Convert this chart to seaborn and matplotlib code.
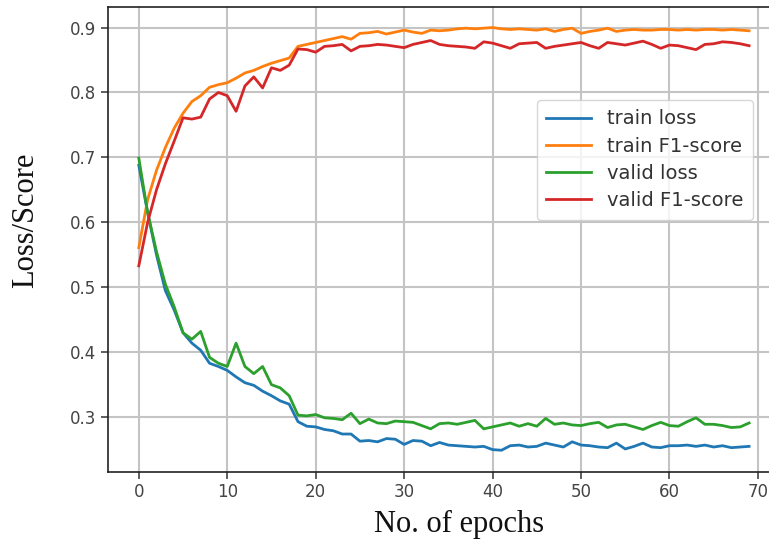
import matplotlib
matplotlib.use("Agg")
import matplotlib.pyplot as plt
import seaborn as sns
import pandas as pd
import numpy as np

epochs = list(range(70))

train_loss = [0.688, 0.615, 0.550, 0.495, 0.465, 0.430, 0.414, 0.403, 0.383, 0.378,
              0.372, 0.362, 0.353, 0.349, 0.340, 0.333, 0.325, 0.320, 0.293, 0.286,
              0.285, 0.281, 0.279, 0.274, 0.274, 0.263, 0.264, 0.262, 0.267, 0.266,
              0.258, 0.264, 0.263, 0.256, 0.261, 0.257, 0.256, 0.255, 0.254, 0.255,
              0.250, 0.249, 0.256, 0.257, 0.254, 0.255, 0.260, 0.257, 0.254, 0.262,
              0.257, 0.256, 0.254, 0.253, 0.260, 0.251, 0.255, 0.260, 0.254, 0.253,
              0.256, 0.256, 0.257, 0.255, 0.257, 0.254, 0.256, 0.253, 0.254, 0.255]

train_f1 = [0.561, 0.635, 0.680, 0.715, 0.745, 0.768, 0.786, 0.795, 0.808, 0.812,
            0.815, 0.822, 0.830, 0.834, 0.840, 0.845, 0.849, 0.853, 0.871, 0.874,
            0.877, 0.880, 0.883, 0.886, 0.882, 0.891, 0.892, 0.894, 0.890, 0.893,
            0.896, 0.893, 0.891, 0.896, 0.895, 0.896, 0.898, 0.899, 0.898, 0.899,
            0.900, 0.898, 0.897, 0.898, 0.897, 0.896, 0.898, 0.894, 0.897, 0.899,
            0.891, 0.894, 0.896, 0.899, 0.894, 0.896, 0.897, 0.896, 0.896, 0.897,
            0.897, 0.896, 0.897, 0.896, 0.897, 0.897, 0.896, 0.897, 0.896, 0.895]

valid_loss = [0.699, 0.615, 0.555, 0.505, 0.470, 0.430, 0.420, 0.432, 0.392, 0.383,
              0.378, 0.414, 0.378, 0.367, 0.378, 0.350, 0.345, 0.333, 0.303, 0.302,
              0.304, 0.299, 0.298, 0.296, 0.306, 0.290, 0.297, 0.291, 0.290, 0.294,
              0.293, 0.292, 0.287, 0.282, 0.290, 0.291, 0.289, 0.292, 0.295, 0.282,
              0.285, 0.288, 0.291, 0.286, 0.290, 0.286, 0.298, 0.289, 0.291, 0.288,
              0.287, 0.290, 0.292, 0.284, 0.288, 0.289, 0.285, 0.281, 0.287, 0.292,
              0.287, 0.286, 0.293, 0.299, 0.289, 0.289, 0.287, 0.284, 0.285, 0.291]

valid_f1 = [0.533, 0.600, 0.650, 0.690, 0.725, 0.761, 0.759, 0.762, 0.790, 0.800,
            0.795, 0.771, 0.810, 0.824, 0.807, 0.838, 0.834, 0.842, 0.867, 0.866,
            0.862, 0.871, 0.872, 0.874, 0.864, 0.871, 0.872, 0.874, 0.873, 0.871,
            0.869, 0.874, 0.877, 0.880, 0.874, 0.872, 0.871, 0.870, 0.868, 0.878,
            0.876, 0.872, 0.868, 0.875, 0.876, 0.877, 0.868, 0.871, 0.873, 0.875,
            0.877, 0.872, 0.868, 0.877, 0.875, 0.873, 0.876, 0.879, 0.874, 0.868,
            0.873, 0.872, 0.869, 0.866, 0.874, 0.875, 0.878, 0.877, 0.875, 0.872]

series_names = ["train loss", "train F1-score", "valid loss", "valid F1-score"]
x_ticks = [0, 10, 20, 30, 40, 50, 60, 70]
y_ticks = [0.3, 0.4, 0.5, 0.6, 0.7, 0.8, 0.9]

colors = ["#1f77b4", "#ff7f0e", "#2ca02c", "#d62728"]

fig = plt.figure(figsize=(7.69, 5.40), dpi=100)
ax = fig.add_axes([0.1408, 0.1265, 0.873, 0.861])

for name, vals, c in zip(series_names, [train_loss, train_f1, valid_loss, valid_f1], colors):
    df = pd.DataFrame({"epoch": epochs, "value": vals})
    sns.lineplot(data=df, x="epoch", y="value", ax=ax, color=c, linewidth=2.0, label=name)

ax.set_xlim(-3.45, 72.45)
ax.set_ylim(0.216, 0.932)
ax.set_xticks(x_ticks)
ax.set_yticks(y_ticks)
ax.set_xticklabels([str(t) for t in x_ticks])
ax.set_yticklabels([f"{t:.1f}" for t in y_ticks])
ax.grid(True, color="#c4c4c4", linewidth=1.5)
ax.set_axisbelow(True)
for s in ax.spines.values():
    s.set_linewidth(1.2)
    s.set_color("#222222")
ax.tick_params(axis="both", labelsize=12, labelcolor="#444444", length=5, width=1.1, color="#333333")

ax.set_xlabel("No. of epochs", family="Liberation Serif", fontsize=22, color="#111111")
ax.set_ylabel("Loss/Score", family="Liberation Serif", fontsize=22, color="#111111")
ax.xaxis.set_label_coords(0.522, -0.082)
ax.yaxis.set_label_coords(-0.102, 0.541)

leg = ax.legend(loc="upper right", bbox_to_anchor=(0.96, 0.80), borderaxespad=0.0,
                fontsize=14, frameon=True, handlelength=2.3, handletextpad=0.8,
                borderpad=0.5, labelspacing=0.42)
for t in leg.get_texts():
    t.set_color("#333333")
leg.get_frame().set_edgecolor("#cccccc")

fig.savefig("out.png", dpi=100)
